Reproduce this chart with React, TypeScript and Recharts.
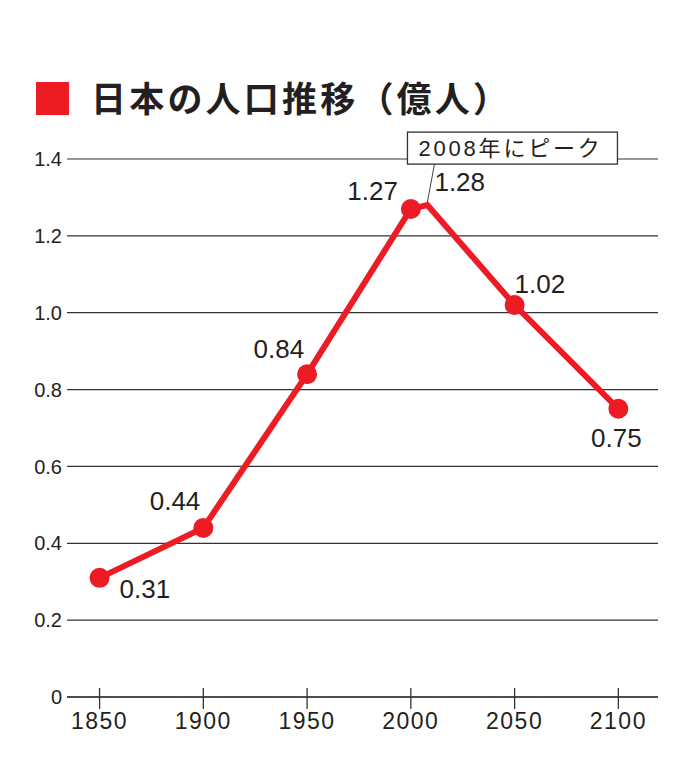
import React from 'react';
import { LineChart, Line, XAxis, YAxis, CartesianGrid, LabelList, ReferenceDot } from 'recharts';

const years = [1850, 1900, 1950, 2000, 2008, 2050, 2100];
const population = [0.31, 0.44, 0.84, 1.27, 1.28, 1.02, 0.75];
const xTicks = [1850, 1900, 1950, 2000, 2050, 2100];
const yTicks = [0, 0.2, 0.4, 0.6, 0.8, 1.0, 1.2, 1.4];
const yTickLabels = ['0', '0.2', '0.4', '0.6', '0.8', '1.0', '1.2', '1.4'];
const title = '日本の人口推移（億人）';
const peakYear = 2008;
const peakNote = '2008年にピーク';

const data = years.map((year, i) => ({ year, value: population[i] }));

const RED = '#ed1c24';
const INK = '#231f20';
const LATIN = '"Liberation Sans", Arial, sans-serif';

// label placement relative to each point (style, not data)
const labelPlace: Record<number, { anchor: 'start' | 'middle' | 'end'; dx: number; dy: number }> = {
  1850: { anchor: 'start', dx: 20, dy: 20 },
  1900: { anchor: 'end', dx: -3, dy: -18 },
  1950: { anchor: 'end', dx: -3, dy: -16 },
  2000: { anchor: 'end', dx: -13, dy: -9 },
  2008: { anchor: 'start', dx: 7, dy: -14 },
  2050: { anchor: 'start', dx: 0, dy: -12 },
  2100: { anchor: 'middle', dx: -2, dy: 38 },
};

const XTick = (props: any) => {
  const { x, y, payload } = props;
  return (
    <g>
      <line x1={x} x2={x} y1={y - 9} y2={y + 12} stroke="#333" strokeWidth={1.3} />
      <text x={x} y={y + 32} textAnchor="middle" fontSize={23} letterSpacing={1.5} fill={INK} fontFamily={LATIN}>
        {payload.value}
      </text>
    </g>
  );
};

const YTick = (props: any) => {
  const { x, y, payload } = props;
  const idx = yTicks.indexOf(payload.value);
  return (
    <text x={x} y={y} dy="0.355em" textAnchor="end" fontSize={20} fill={INK} fontFamily={LATIN}>
      {idx >= 0 ? yTickLabels[idx] : payload.value}
    </text>
  );
};

const Dot = (props: any) => {
  const { cx, cy, payload, index } = props;
  if (payload.year === peakYear) return <g key={`d${index}`} />;
  return <circle key={`d${index}`} cx={cx} cy={cy} r={10} fill={RED} />;
};

const ValueLabel = (props: any) => {
  const { x, y, value, index } = props;
  const yr = years[index];
  const p = labelPlace[yr];
  return (
    <text x={x + p.dx} y={y + p.dy} textAnchor={p.anchor} fontSize={26} fill={INK} fontFamily={LATIN}>
      {Number(value).toFixed(2)}
    </text>
  );
};

const PeakNote = (props: any) => {
  const { cx, cy } = props;
  return (
    <g>
      <line x1={cx} y1={cy - 3} x2={cx + 7} y2={cy - 41} stroke="#444" strokeWidth={1} />
      <rect x={cx - 20} y={cy - 73} width={210} height={32} fill="#fff" stroke="#333" strokeWidth={1.3} />
      <text x={cx - 9} y={cy - 49} fontSize={22} letterSpacing={2.8} fill={INK} fontFamily={'"Liberation Sans", "Noto Sans CJK JP", sans-serif'}>
        {peakNote}
      </text>
    </g>
  );
};

export default function App() {
  return (
    <div style={{ position: 'absolute', left: 0, top: 0, width: 700, height: 779, background: '#fff' }}>
      <svg width={700} height={140} style={{ position: 'absolute', left: 0, top: 0 }}>
        <rect x={36} y={82} width={33} height={33} fill={RED} />
        <text x={91} y={112} fontSize={35} fontWeight={700} letterSpacing={3.2} fill={INK} fontFamily='"Noto Sans CJK JP", sans-serif'>
          {title}
        </text>
      </svg>
      <div style={{ position: 'absolute', left: 0, top: 0 }}>
        <LineChart width={700} height={779} data={data} margin={{ top: 159, right: 42, bottom: 0, left: 7 }}>
          <CartesianGrid vertical={false} stroke="#333" strokeWidth={1.2} />
          <XAxis
            dataKey="year"
            type="number"
            domain={[1834.3, 2119.1]}
            ticks={xTicks}
            interval={0}
            tickLine={false}
            tickSize={0}
            tickMargin={0}
            axisLine={{ stroke: '#333', strokeWidth: 1.3 }}
            tick={<XTick />}
            height={82}
            allowDataOverflow
          />
          <YAxis
            type="number"
            domain={[0, 1.4]}
            ticks={yTicks}
            interval={0}
            axisLine={false}
            tickLine={false}
            tickSize={0}
            tickMargin={5}
            width={60}
            tick={<YTick />}
          />
          <Line
            type="linear"
            dataKey="value"
            stroke={RED}
            strokeWidth={6}
            dot={Dot}
            activeDot={false}
            isAnimationActive={false}
          >
            <LabelList dataKey="value" content={ValueLabel} />
          </Line>
          <ReferenceDot x={peakYear} y={population[years.indexOf(peakYear)]} shape={PeakNote} ifOverflow="visible" />
        </LineChart>
      </div>
    </div>
  );
}
